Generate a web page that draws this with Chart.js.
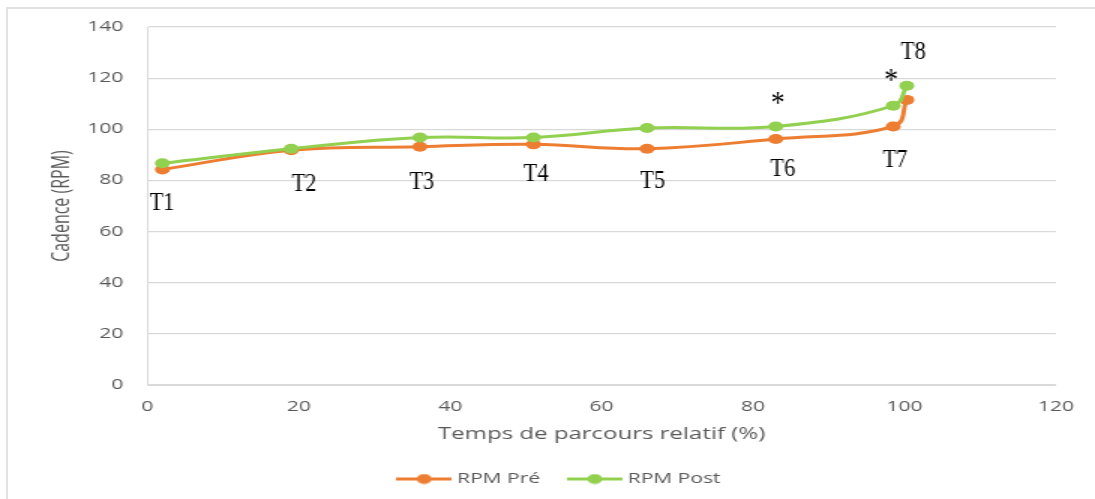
<!DOCTYPE html>
<html>
<head>
<meta charset="utf-8">
<script src="https://cdn.jsdelivr.net/npm/chart.js@4/dist/chart.umd.min.js"></script>
<style>
  html, body { margin: 0; padding: 0; background: #fff; overflow: hidden; }
  #frame {
    position: absolute; left: 6px; top: 7px; width: 1120px; height: 520px;
    border-left: 2px solid #e2e2e2; border-top: 2px solid #e2e2e2;
  }
  /* the chart is laid out narrow and widened horizontally */
  #wrap {
    position: absolute; left: 0; top: 0; width: 730px; height: 499px;
    transform: scaleX(1.5); transform-origin: 0 0;
  }
</style>
</head>
<body>
<div id="frame"></div>
<div id="wrap"><canvas id="chart" width="730" height="499"></canvas></div>
<script>
// Relative race time (%) at each timing point
const temps = [2, 19, 36, 51, 66, 83, 98.5, 100.3];
// Cadence (RPM) before and after
const rpmPre  = [84.3, 91.8, 93.2, 94.1, 92.4, 96.2, 101.1, 111.5];
const rpmPost = [86.7, 92.4, 96.8, 96.8, 100.5, 101.1, 109.2, 117.0];
// Timing point names
const stages = ['T1', 'T2', 'T3', 'T4', 'T5', 'T6', 'T7', 'T8'];
// Timing points with a significant difference (*)
const significant = [5, 6];
// Axis ranges
const xTickValues = [0, 20, 40, 60, 80, 100, 120];
const yTickValues = [0, 20, 40, 60, 80, 100, 120, 140];

const STRETCH = 1.5;
const LABEL_WIDTH = 0.86;   // serif labels are drawn slightly condensed
const PRE_COLOR = '#ED7D31';
const POST_COLOR = '#92D050';
const AXIS_TEXT = '#595959';
const GRID = '#d9d9d9';
const SANS = '"Open Sans", "DejaVu Sans", sans-serif';
const SERIF = '"Liberation Serif", "Times New Roman", serif';

// label placement around the points: series index, dx (screen px), baseline dy
const stageLabelPlacement = [
  { series: 0, dx: -0.5, dy: 40.1 },
  { series: 0, dx: 13,   dy: 40.6 },
  { series: 0, dx: 2,    dy: 42.6 },
  { series: 0, dx: 2.5,  dy: 36.6 },
  { series: 0, dx: 5.5,  dy: 39.6 },
  { series: 0, dx: 7,    dy: 36.6 },
  { series: 0, dx: 2,    dy: 40.6 },
  { series: 1, dx: 6.5,  dy: -26.9 }
];
const starPlacement = [
  { series: 1, dx: 2,  dy: -13 },
  { series: 1, dx: -2, dy: -15.5 }
];
const LEGEND_SHIFT = 20.7;

function legendSwatch(color) {
  const c = document.createElement('canvas');
  c.width = 37; c.height = 11;
  const g = c.getContext('2d');
  g.strokeStyle = color; g.lineWidth = 3;
  g.beginPath(); g.moveTo(0, 5.5); g.lineTo(37, 5.5); g.stroke();
  g.fillStyle = color;
  g.beginPath(); g.arc(18.5, 5.5, 5, 0, Math.PI * 2); g.fill();
  return c;
}
const swatches = [legendSwatch(PRE_COLOR), legendSwatch(POST_COLOR)];

function drawUpright(ctx, text, x, y) {
  ctx.save();
  ctx.translate(x, y);
  ctx.scale(LABEL_WIDTH / STRETCH, 1);
  ctx.fillText(text, 0, 0);
  ctx.restore();
}

const stageMarkers = {
  id: 'stageMarkers',
  afterDatasetsDraw(chart) {
    const ctx = chart.ctx;
    ctx.save();
    ctx.fillStyle = '#000';
    ctx.textAlign = 'center';
    ctx.textBaseline = 'alphabetic';
    ctx.font = '26px ' + SERIF;
    stages.forEach((name, i) => {
      const p = stageLabelPlacement[i];
      const pt = chart.getDatasetMeta(p.series).data[i];
      drawUpright(ctx, name, pt.x + p.dx / STRETCH, pt.y + p.dy);
    });
    ctx.font = '32px ' + SERIF;
    significant.forEach((idx, k) => {
      const p = starPlacement[k];
      const pt = chart.getDatasetMeta(p.series).data[idx];
      drawUpright(ctx, '*', pt.x + p.dx / STRETCH, pt.y + p.dy);
    });
    ctx.restore();
  }
};

const legendOffset = {
  id: 'legendOffset',
  afterLayout(chart) {
    if (chart.legend) {
      chart.legend.left += LEGEND_SHIFT;
      chart.legend.right += LEGEND_SHIFT;
    }
  }
};

const toPoints = ys => temps.map((x, i) => ({ x, y: ys[i] }));

new Chart(document.getElementById('chart'), {
  type: 'line',
  data: {
    datasets: [
      {
        label: 'RPM Pré',
        data: toPoints(rpmPre),
        borderColor: PRE_COLOR,
        backgroundColor: PRE_COLOR,
        borderWidth: 3,
        pointRadius: 5,
        pointBorderWidth: 0,
        tension: 0.4,
        order: 1
      },
      {
        label: 'RPM Post',
        data: toPoints(rpmPost),
        borderColor: POST_COLOR,
        backgroundColor: POST_COLOR,
        borderWidth: 3,
        pointRadius: 5,
        pointBorderWidth: 0,
        tension: 0.4,
        order: 0
      }
    ]
  },
  options: {
    responsive: false,
    animation: false,
    devicePixelRatio: 1,
    layout: { padding: { left: 0, right: 23.3, top: 27, bottom: 3 } },
    scales: {
      x: {
        type: 'linear',
        min: xTickValues[0],
        max: xTickValues[xTickValues.length - 1],
        afterBuildTicks(scale) { scale.ticks = xTickValues.map(v => ({ value: v })); },
        ticks: { color: AXIS_TEXT, font: { family: SANS, size: 14 }, padding: 14 },
        grid: { display: false, drawTicks: false },
        border: { display: true, color: GRID, width: 1 },
        title: {
          display: true, text: 'Temps de parcours relatif (%)', color: AXIS_TEXT,
          font: { family: SANS, size: 16 }, padding: { top: 0, bottom: 6.9 }
        },
        afterFit(scale) { scale.height = 65.5; }
      },
      y: {
        min: yTickValues[0],
        max: yTickValues[yTickValues.length - 1],
        afterBuildTicks(scale) { scale.ticks = yTickValues.map(v => ({ value: v })); },
        ticks: { color: AXIS_TEXT, font: { family: SANS, size: 14 }, padding: 16 },
        grid: { color: GRID, lineWidth: 1.2, drawTicks: false },
        border: { display: true, color: GRID, width: 1 },
        title: {
          display: true, text: 'Cadence (RPM)', color: AXIS_TEXT,
          font: { family: SANS, size: 16 }, padding: { top: 31.7, bottom: 0 }
        },
        afterFit(scale) { scale.width = 98.2; }
      }
    },
    plugins: {
      tooltip: { enabled: false },
      legend: {
        position: 'bottom',
        labels: {
          usePointStyle: true,
          pointStyleWidth: 30,
          color: AXIS_TEXT,
          font: { family: SANS, size: 14 },
          padding: 21.5,
          sort: (a, b) => a.datasetIndex - b.datasetIndex,
          generateLabels(chart) {
            const items = Chart.defaults.plugins.legend.labels.generateLabels(chart);
            items.forEach(it => { it.pointStyle = swatches[it.datasetIndex]; });
            return items;
          }
        }
      }
    }
  },
  plugins: [stageMarkers, legendOffset]
});
</script>
</body>
</html>
